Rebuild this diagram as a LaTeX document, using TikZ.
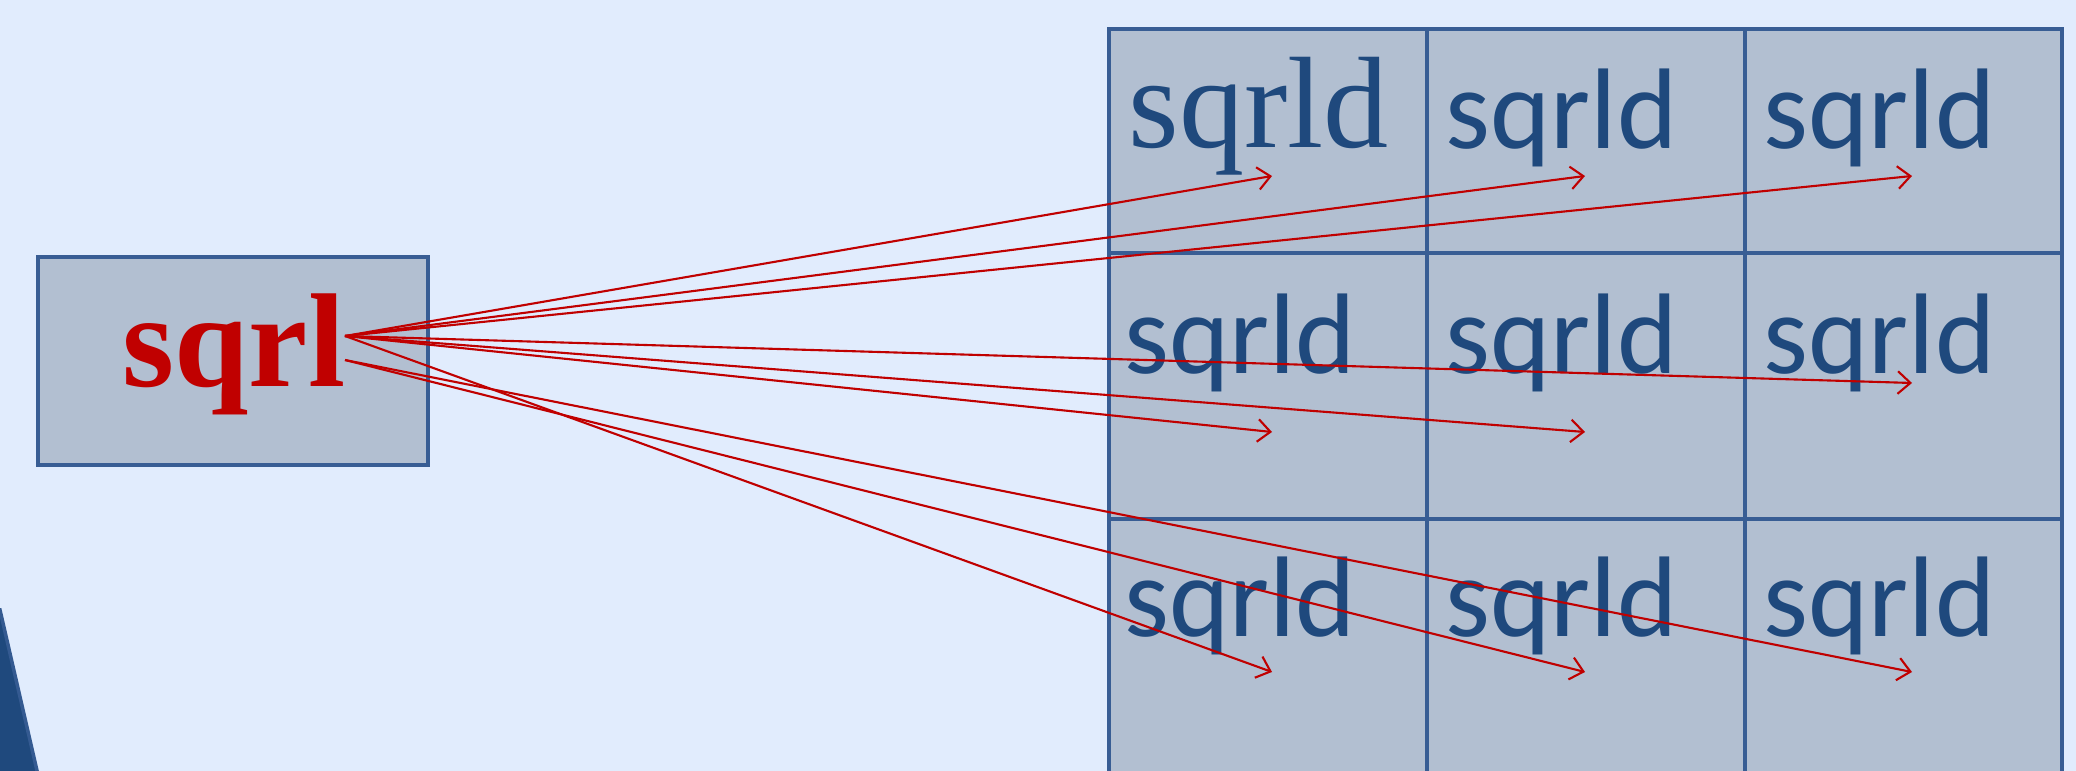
\documentclass[tikz,border=0pt]{standalone}
\usepackage{fontspec}
\setmainfont{Liberation Serif}
\newfontfamily\cellfont{Carlito}
\usetikzlibrary{arrows.meta}
\definecolor{bgblue}{RGB}{225,236,253}
\definecolor{cellfill}{RGB}{178,191,209}
\definecolor{edgeblue}{RGB}{56,93,148}
\definecolor{textblue}{RGB}{31,73,125}
\definecolor{sqred}{RGB}{192,0,0}
\definecolor{cornerblue}{RGB}{31,73,125}
\definecolor{corneredge}{RGB}{52,90,145}
\tikzset{
  cellbox/.style={draw=edgeblue, fill=cellfill, line width=0.9pt, inner sep=0pt},
  celltext/.style={anchor=base west, inner sep=0pt, text=textblue, font=\cellfont\fontsize{32.6}{36}\selectfont},
  serifcell/.style={anchor=base west, inner sep=0pt, text=textblue, font=\fontsize{37}{40}\selectfont},
  srcbox/.style={draw=edgeblue, fill=cellfill, line width=0.9pt, inner sep=0pt},
  srctext/.style={anchor=base, inner sep=0pt, text=sqred, font=\bfseries\fontsize{38}{42}\selectfont},
  link/.style={draw=sqred, line width=0.6pt, -{Straight Barb[length=3.6pt,width=6.4pt,line width=0.6pt]}}
}
\begin{document}
\begin{tikzpicture}[x=0.01cm, y=-0.01cm]
\useasboundingbox (0,0) rectangle (2076,771);
\fill[bgblue] (0,0) rectangle (2076,771);
\clip (0,0) rectangle (2076,771);
% corner shape
\filldraw[fill=cornerblue, draw=corneredge, line width=1pt] (-10,610) -- (0,610) -- (38,775) -- (-10,775) -- cycle;
% grid cells
\foreach \c/\xa/\xb in {1/1109/1427, 2/1427/1745, 3/1745/2062}{
  \foreach \r/\ya/\yb in {1/29/253, 2/253/519, 3/519/800}{
    \path[cellbox] (\xa,\ya) rectangle (\xb,\yb) node[pos=0.5, inner sep=0pt] (cell\r\c) {};
  }
}
% cell texts
\node[serifcell] (t11) at (1128,148) {sqrld};
\node[celltext] (t12) at (1445,149) {sqrld};
\node[celltext] (t13) at (1763,149) {sqrld};
\node[celltext] (t21) at (1124,374) {sqrld};
\node[celltext] (t22) at (1445,374) {sqrld};
\node[celltext] (t23) at (1763,374) {sqrld};
\node[celltext] (t31) at (1124,637) {sqrld};
\node[celltext] (t32) at (1445,637) {sqrld};
\node[celltext] (t33) at (1763,637) {sqrld};
% source box
\path[srcbox] (38,257) rectangle (428,465) node[pos=0.5, inner sep=0pt] (src) {};
\node[srctext] (srctxt) at (234,387) {sqrl};
% connector endpoints
\coordinate (s1) at (345,336);
\coordinate (s2) at (345,360);
\coordinate (e11) at (1272,176);
\coordinate (e12) at (1585,176);
\coordinate (e13) at (1912,176);
\coordinate (e21) at (1272,432);
\coordinate (e22) at (1585,432);
\coordinate (e23) at (1912,383);
\coordinate (e31) at (1272,672);
\coordinate (e32) at (1585,672);
\coordinate (e33) at (1912,672);
\draw[link] (s1) -- (e11);
\draw[link] (s1) -- (e12);
\draw[link] (s1) -- (e13);
\draw[link] (s1) -- (e21);
\draw[link] (s1) -- (e22);
\draw[link] (s1) -- (e23);
\draw[link] (s1) -- (e31);
\draw[link] (s2) -- (e32);
\draw[link] (s2) -- (e33);
\end{tikzpicture}
\end{document}
